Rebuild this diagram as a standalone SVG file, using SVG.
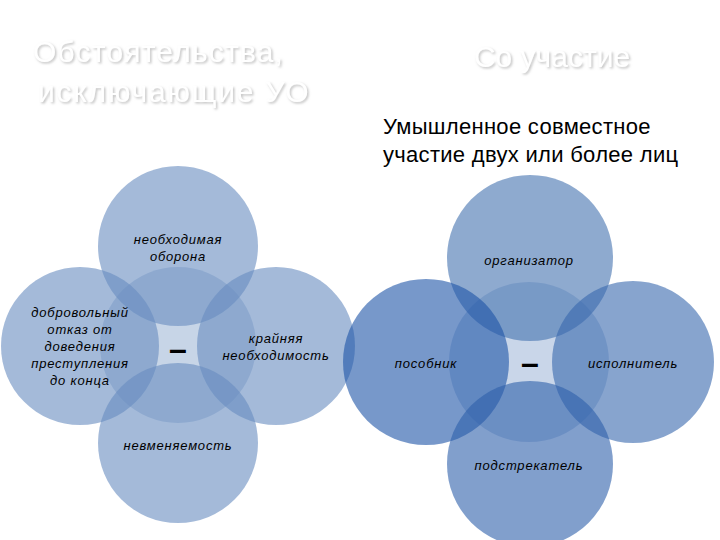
<svg xmlns="http://www.w3.org/2000/svg" width="720" height="540" viewBox="0 0 720 540">
<defs>
<filter id="emboss" x="-5%" y="-20%" width="110%" height="150%">
<feDropShadow dx="1.5" dy="1.5" stdDeviation="0.8" flood-color="#b4b4b4" flood-opacity="0.8"/>
</filter>
<style>
.title{font-family:"Liberation Sans",Arial,sans-serif;font-size:30px;fill:#ffffff;filter:url(#emboss)}
.sub{font-family:"Liberation Sans",Arial,sans-serif;font-size:22px;fill:#000000;letter-spacing:0.3px}
.lbl{font-family:"Liberation Sans",Arial,sans-serif;font-size:13px;font-style:italic;fill:#000000;text-anchor:middle;letter-spacing:0.8px}
.dash{font-family:"Liberation Sans",Arial,sans-serif;font-size:32px;font-weight:bold;fill:#000000;text-anchor:middle}
.cl{fill:#678cbf;fill-opacity:0.6}
.clc{fill:#678cbf;fill-opacity:0.37}
.cr-top{fill:#4371af;fill-opacity:0.6}
.cr-left{fill:#1d53a6;fill-opacity:0.6}
.cr-right{fill:#3767ad;fill-opacity:0.6}
.cr-bot{fill:#2d5faa;fill-opacity:0.6}
.crc{fill:#2d5faa;fill-opacity:0.26}
</style>
</defs>
<rect width="720" height="540" fill="#ffffff"/>
<g id="titles">
<text class="title" x="33" y="62" letter-spacing="1.2">Обстоятельства,</text>
<text class="title" x="38" y="102" letter-spacing="1.8">исключающие УО</text>
<text class="title" x="552" y="67" text-anchor="middle">Со участие</text>
<text class="sub" x="383" y="134">Умышленное совместное</text>
<text class="sub" x="383" y="162">участие двух или более лиц</text>
</g>
<g id="left-center"><circle class="clc" cx="178" cy="345" r="78"/><text class="dash" x="178" y="360">–</text></g>
<g id="left-top"><circle class="cl" cx="178" cy="246" r="80"/><text class="lbl" x="178" y="244">необходимая</text><text class="lbl" x="178" y="261">оборона</text></g>
<g id="left-left"><circle class="cl" cx="80" cy="346" r="79"/><text class="lbl" x="80" y="317">добровольный</text><text class="lbl" x="80" y="334">отказ от</text><text class="lbl" x="80" y="351">доведения</text><text class="lbl" x="80" y="368">преступления</text><text class="lbl" x="80" y="385">до конца</text></g>
<g id="left-right"><circle class="cl" cx="276" cy="346" r="79"/><text class="lbl" x="276" y="343">крайняя</text><text class="lbl" x="276" y="360">необходимость</text></g>
<g id="left-bottom"><circle class="cl" cx="178" cy="443" r="80"/><text class="lbl" x="178" y="450">невменяемость</text></g>
<g id="right-center"><circle class="crc" cx="529" cy="362" r="80"/><text class="dash" x="530" y="374">–</text></g>
<g id="right-top"><circle class="cr-top" cx="530" cy="258" r="83"/><text class="lbl" x="529" y="265">организатор</text></g>
<g id="right-left"><circle class="cr-left" cx="426" cy="362" r="83"/><text class="lbl" x="426" y="368">пособник</text></g>
<g id="right-right"><circle class="cr-right" cx="633" cy="362" r="81"/><text class="lbl" x="633" y="368">исполнитель</text></g>
<g id="right-bottom"><circle class="cr-bot" cx="530" cy="464" r="83"/><text class="lbl" x="529" y="470">подстрекатель</text></g>
</svg>
